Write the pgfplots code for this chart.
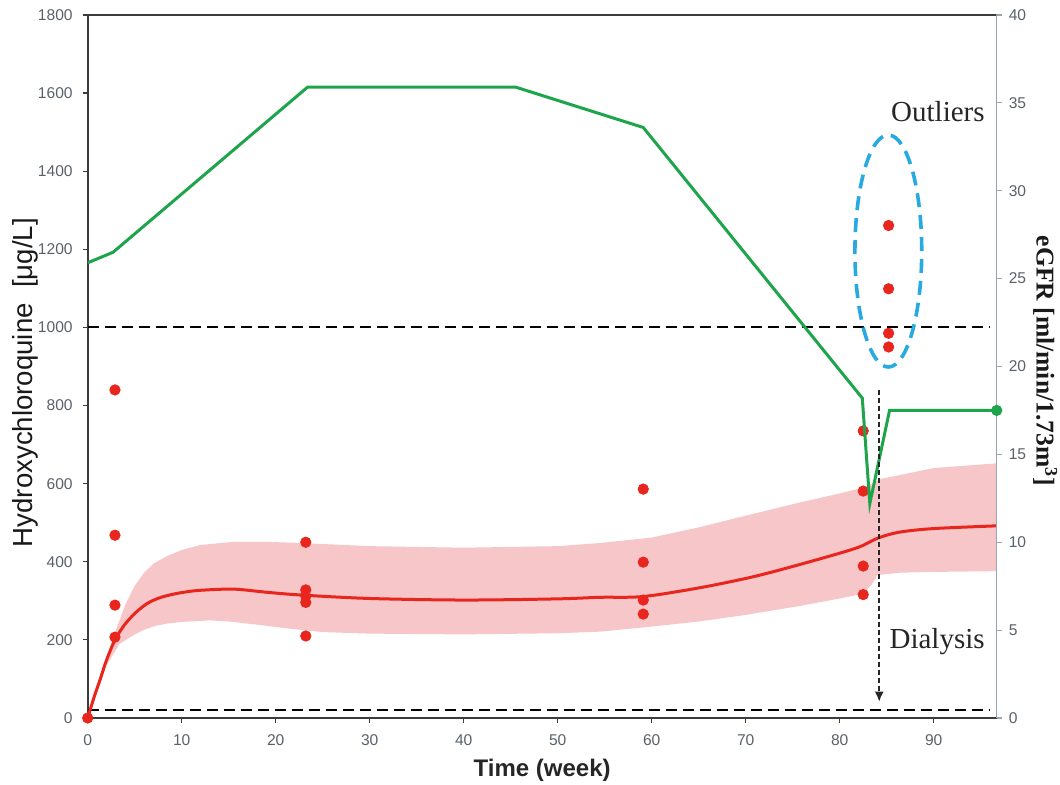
\documentclass[border=0pt]{standalone}
\usepackage{fontspec}
\setmainfont{Liberation Serif}
\setsansfont{Liberation Sans}
\usepackage{pgfplots}
\pgfplotsset{compat=1.18}
\usetikzlibrary{arrows.meta}

\definecolor{hcqred}{RGB}{232,38,30}
\definecolor{bandpink}{RGB}{246,198,200}
\definecolor{egreen}{RGB}{30,165,75}
\definecolor{tickgray}{RGB}{90,98,105}
\definecolor{axisdark}{RGB}{60,60,60}
\definecolor{axislight}{RGB}{150,165,175}
\definecolor{ellblue}{RGB}{40,170,225}

\pgfplotsset{common/.style={
  width=454.5pt, height=351.5pt, scale only axis,
  xmin=0, xmax=96.7,
  tick align=outside, major tick length=2.5pt,
  tick label style={font=\sffamily\fontsize{7.8}{9}\selectfont, text=tickgray},
  /pgf/number format/assume math mode=true,
  /pgf/number format/1000 sep={},
}}

\begin{document}
\begin{tikzpicture}
\begin{axis}[common,
  ymin=0, ymax=1800,
  axis x line*=bottom, axis y line*=left,
  xtick={0,10,...,90}, ytick={0,200,...,1800},
  axis line style={axisdark, line width=0.9pt},
  major tick style={axisdark, line width=0.6pt},
  x tick label style={yshift=-2.4pt},
  y tick label style={xshift=-1.5pt},
  xlabel={Time (week)},
  xlabel style={at={(axis description cs:0.5,0)}, anchor=base, yshift=-29.3pt,
    font=\sffamily\bfseries\fontsize{12}{14}\selectfont, text=black!85},
  ylabel={Hydroxychloroquine\ \ [μg/L]},
  ylabel style={at={(axis description cs:0,0.477)}, anchor=center, yshift=31.3pt,
    font=\sffamily\fontsize{13.8}{16}\selectfont, text=black!90},
]
\coordinate (O) at (rel axis cs:0,0);
\draw[axisdark, line width=0.9pt] (rel axis cs:0,1) -- (rel axis cs:1,1);

% confidence band
\addplot[draw=none, fill=bandpink] coordinates {
 (0,0) (1,80) (2,155) (3,225) (4,290) (5,338) (6,372) (7,395) (8.4,414) (10,430)
 (12,443) (15.5,451) (19,451) (22.6,448) (30,440) (40,436) (50,440) (54.5,448)
 (60,462) (65,488) (70,518) (75.8,552) (80,575) (82.9,592) (84.3,612) (86.4,622)
 (90,640) (96.7,652)
 (96.7,376) (90,374) (86.4,372) (84,366) (83.5,345) (82.5,318) (80,306)
 (75.8,287) (70,264) (65,247) (60,234) (54.5,221) (50,217) (40,214) (30,216)
 (25,220) (21,230) (18.4,238) (15,247) (13,250) (10,246) (8.5,242) (7.2,236)
 (6,226) (5,214) (4.2,202) (3.4,190) (2,135) (1,65) (0,0)
} -- cycle;

% dashed reference lines
\addplot[black, line width=1pt, dash pattern=on 5.5pt off 3pt] coordinates {(0,1000) (96,1000)};
\addplot[black, line width=1pt, dash pattern=on 5.5pt off 3pt] coordinates {(0,20) (96,20)};

% model prediction
\addplot[hcqred, line width=1.5pt, smooth] coordinates {
 (0,0) (0.7,55) (1.3,97) (2,148) (2.9,200) (3.9,238) (4.9,265) (5.8,284)
 (6.6,297) (7.8,309) (9.1,317) (10.5,323) (12,327) (15.5,330)
 (19,322) (22.6,315) (30,306) (40,302) (50,305) (54.5,309) (59.1,311) (65,333)
 (70.5,360) (75,388) (80,422) (82.2,439) (84.1,461) (86.4,476) (90,485) (96.7,492)
};

% observations
\addplot[only marks, mark=*, mark size=2.6pt, hcqred] coordinates {
 (0,0)
 (2.9,840) (2.9,468) (2.9,289) (2.9,207)
 (23.2,450) (23.2,328) (23.2,312) (23.2,296) (23.2,210)
 (59.1,586) (59.1,399) (59.1,302) (59.1,266)
 (82.5,735) (82.5,581) (82.5,389) (82.5,316)
 (85.2,1261) (85.2,1099) (85.2,985) (85.2,950)
};
\end{axis}

\begin{axis}[common,
  ymin=0, ymax=40,
  axis x line=none, axis y line*=right,
  ytick={0,5,...,40},
  axis line style={axislight, line width=0.6pt},
  major tick style={axislight, line width=0.6pt},
  ylabel={eGFR [ml/min/1.73m\textsuperscript{3}]},
  ylabel style={at={(axis description cs:1,0.508)}, anchor=center, yshift=-24.3pt,
    rotate=180, font=\bfseries\fontsize{12.8}{15}\selectfont, text=black!90},
]
\addplot[egreen, line width=1.5pt, mark=none] coordinates {
 (0,25.9) (2.7,26.5) (23.4,35.9) (45.5,35.9) (59.1,33.6) (82.4,18.2)
 (83.2,12.2) (85.3,17.5) (96.7,17.5)
};
\addplot[only marks, mark=*, mark size=2.6pt, egreen] coordinates {(96.7,17.5)};

\draw[black!85, line width=0.8pt, dash pattern=on 2.5pt off 1.5pt,
  -{Latex[length=5pt,width=4.5pt]}] (axis cs:84.2,18.67) -- (axis cs:84.2,0.93);
\draw[ellblue, line width=1.8pt, dash pattern=on 7pt off 4pt]
  (axis cs:85.17,26.57) ellipse [x radius=16.7pt, y radius=58pt];
\node[anchor=base east, inner sep=0pt, text=black!85,
  font=\fontsize{14.5}{17}\selectfont] at (axis cs:95.46,33.96) {Outliers};
\node[anchor=base east, inner sep=0pt, text=black!85,
  font=\fontsize{14.5}{17}\selectfont] at (axis cs:95.46,3.93) {Dialysis};
\end{axis}

\pgfresetboundingbox
\path[use as bounding box] (O) ++(-43.85pt,-33.5pt) rectangle ++(530pt,392.5pt);
\end{tikzpicture}
\end{document}
